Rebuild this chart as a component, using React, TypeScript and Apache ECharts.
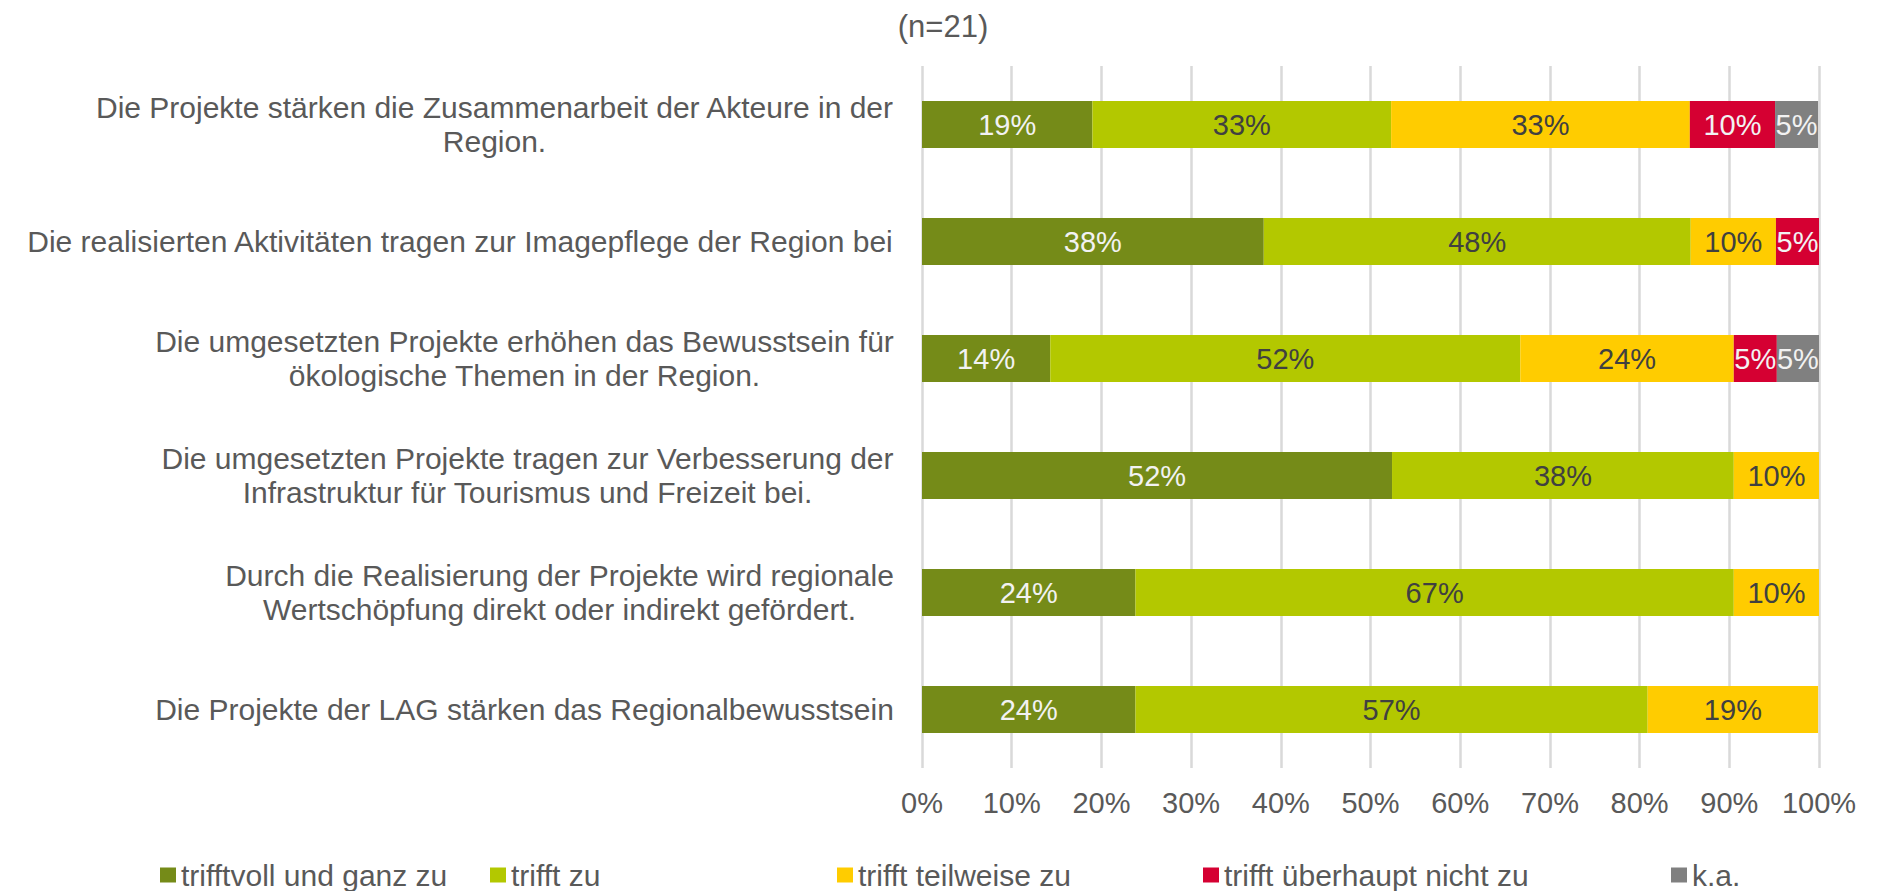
import React, { useEffect, useRef } from "react";
import * as echarts from "echarts";

const categories: string[] = [
  "Die Projekte stärken die Zusammenarbeit der Akteure in der\nRegion.",
  "Die realisierten Aktivitäten tragen zur Imagepflege der Region bei",
  "Die umgesetzten Projekte erhöhen das Bewusstsein für\nökologische Themen in der Region.",
  "Die umgesetzten Projekte tragen zur Verbesserung der\nInfrastruktur für Tourismus und Freizeit bei.",
  "Durch die Realisierung der Projekte wird regionale\nWertschöpfung direkt oder indirekt gefördert.",
  "Die Projekte der LAG stärken das Regionalbewusstsein",
];

const seriesNames: string[] = [
  "trifftvoll und ganz zu",
  "trifft zu",
  "trifft teilweise zu",
  "trifft überhaupt nicht zu",
  "k.a.",
];

const voll: number[] = [19.0, 38.1, 14.3, 52.4, 23.8, 23.8];
const zu: number[] = [33.3, 47.6, 52.4, 38.1, 66.7, 57.1];
const teilweise: number[] = [33.3, 9.5, 23.8, 9.5, 9.5, 19.0];
const nicht: number[] = [9.5, 4.8, 4.8, 0, 0, 0];
const ka: number[] = [4.8, 0, 4.8, 0, 0, 0];

const xTicks: number[] = [0, 10, 20, 30, 40, 50, 60, 70, 80, 90, 100];

const colors = ["#758B18", "#B3C800", "#FFCC00", "#D50032", "#808080"];
const labelColors = ["#F2F2F2", "#404040", "#404040", "#F2F2F2", "#F2F2F2"];
const legendLeft = [160, 490, 837, 1203, 1671];

const FONT = '"Liberation Sans", Arial, sans-serif';
const FS_CAT = 30;
const FS_TICK = 29;
const FS_LBL = 29;
const FS_LEG = 30;
const TXT = "#595959";

export default function App() {
  const ref = useRef<HTMLDivElement>(null);
  useEffect(() => {
    document.body.style.margin = "0";
    if (!ref.current) return;
    const chart = echarts.init(ref.current, undefined, { renderer: "svg" });

    const canvas = document.createElement("canvas");
    const ctx = canvas.getContext("2d")!;
    ctx.font = `${FS_CAT}px ${FONT}`;
    const rich: Record<string, any> = {};
    categories.forEach((c, i) => {
      const w = Math.max(...c.split("\n").map((l) => ctx.measureText(l).width));
      rich["c" + i] = {
        width: Math.ceil(w) + 2,
        align: "center",
        fontSize: FS_CAT,
        lineHeight: 34,
        color: TXT,
        fontFamily: FONT,
      };
    });

    const dataSets = [voll, zu, teilweise, nicht, ka];

    const option: any = {
      animation: false,
      textStyle: { fontFamily: FONT },
      grid: { left: 922, right: 62, top: 66, bottom: 123, containLabel: false },
      graphic: [
        {
          type: "text",
          x: 943,
          y: 26,
          style: {
            text: "(n=21)",
            fontSize: 31,
            fontFamily: FONT,
            fill: TXT,
            textAlign: "center",
            textVerticalAlign: "middle",
          },
        },
      ],
      legend: seriesNames.map((n, i) => ({
        data: [n],
        left: legendLeft[i],
        top: 860,
        icon: "rect",
        itemWidth: 16,
        itemHeight: 15,
        padding: 0,
        selectedMode: false,
        textStyle: { fontSize: FS_LEG, color: TXT, fontFamily: FONT },
      })),
      xAxis: {
        type: "value",
        min: xTicks[0],
        max: xTicks[xTicks.length - 1],
        interval: 10,
        axisLine: { show: false },
        axisTick: { show: false },
        splitLine: { show: true, lineStyle: { color: "#D9D9D9", width: 2.5 } },
        axisLabel: {
          formatter: "{value}%",
          fontSize: FS_TICK,
          color: TXT,
          fontFamily: FONT,
          margin: 20,
        },
      },
      yAxis: {
        type: "category",
        inverse: true,
        data: categories,
        axisLine: { show: false },
        axisTick: { show: false },
        axisLabel: {
          margin: 27,
          formatter: (v: string, idx: number) =>
            v
              .split("\n")
              .map((l) => `{c${idx}|${l}}`)
              .join("\n"),
          rich,
        },
      },
      series: seriesNames.map((n, i) => ({
        name: n,
        type: "bar",
        stack: "total",
        barWidth: 47,
        data: dataSets[i],
        itemStyle: { color: colors[i] },
        label: {
          show: true,
          position: "inside",
          fontSize: FS_LBL,
          fontFamily: FONT,
          color: labelColors[i],
          formatter: (p: any) => (p.value > 0 ? Math.round(p.value) + "%" : ""),
        },
      })),
    };
    chart.setOption(option);
    return () => chart.dispose();
  }, []);
  return <div ref={ref} style={{ width: 1881, height: 891 }} />;
}
